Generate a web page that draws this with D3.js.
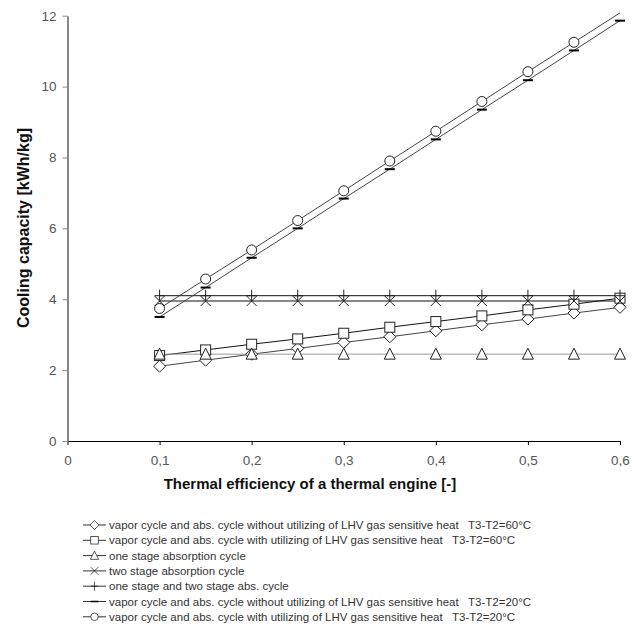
<!DOCTYPE html>
<html>
<head>
<meta charset="utf-8">
<script src="https://cdn.jsdelivr.net/npm/d3@7"></script>
<style>
  body { margin: 0; background: #fff; }
  text { font-family: "Liberation Sans", Arial, sans-serif; }
</style>
</head>
<body>
<div id="chart"></div>
<script>
// thermal efficiency values
let eff = [0.1, 0.15, 0.2, 0.25, 0.3, 0.35, 0.4, 0.45, 0.5, 0.55, 0.6];

let vapNoLhv60 = [2.11, 2.28, 2.45, 2.61, 2.78, 2.94, 3.11, 3.28, 3.44, 3.61, 3.77];
let vapLhv60   = [2.41, 2.57, 2.73, 2.88, 3.04, 3.21, 3.37, 3.53, 3.70, 3.86, 4.03];
let oneStage   = [2.45, 2.45, 2.45, 2.45, 2.45, 2.45, 2.45, 2.45, 2.45, 2.45, 2.45];
let twoStage   = [3.95, 3.95, 3.95, 3.95, 3.95, 3.95, 3.95, 3.95, 3.95, 3.95, 3.95];
let oneTwo     = [4.10, 4.10, 4.10, 4.10, 4.10, 4.10, 4.10, 4.10, 4.10, 4.10, 4.10];
let vapNoLhv20 = [3.50, 4.33, 5.17, 6.00, 6.84, 7.67, 8.51, 9.35, 10.18, 11.02, 11.86];
let vapLhv20   = [3.74, 4.57, 5.39, 6.22, 7.06, 7.90, 8.74, 9.58, 10.42, 11.25, 12.08];

let xTicks = [0, 0.1, 0.2, 0.3, 0.4, 0.5, 0.6];
let yTicks = [0, 2, 4, 6, 8, 10, 12];

let seriesNames = [
  "vapor cycle and abs. cycle without utilizing of LHV gas sensitive heat   T3-T2=60°C",
  "vapor cycle and abs. cycle with utilizing of LHV gas sensitive heat   T3-T2=60°C",
  "one stage absorption cycle",
  "two stage absorption cycle",
  "one stage and two stage abs. cycle",
  "vapor cycle and abs. cycle without utilizing of LHV gas sensitive heat   T3-T2=20°C",
  "vapor cycle and abs. cycle with utilizing of LHV gas sensitive heat   T3-T2=20°C"
];

let series = [
  {name: seriesNames[0], values: vapNoLhv60, marker: "diamond", line: "#444"},
  {name: seriesNames[1], values: vapLhv60,   marker: "square",  line: "#111"},
  {name: seriesNames[2], values: oneStage,   marker: "triangle",line: "#999"},
  {name: seriesNames[3], values: twoStage,   marker: "x",       line: "#111"},
  {name: seriesNames[4], values: oneTwo,     marker: "plus",    line: "#111"},
  {name: seriesNames[5], values: vapNoLhv20, marker: "dash",    line: "#444"},
  {name: seriesNames[6], values: vapLhv20,   marker: "circle",  line: "#444"}
];

let W = 638, H = 643,
    margin = {top: 15.7, right: 18, left: 67.5, bottom: 202},
    width = W - margin.left - margin.right,
    height = H - margin.top - margin.bottom;

let svg = d3.select("#chart").append("svg")
  .attr("width", W).attr("height", H);

let x = d3.scaleLinear().domain([0, 0.6]).range([0, width]);
let y = d3.scaleLinear().domain([0, 12]).range([height, 0]);

let g = svg.append("g")
  .attr("transform", "translate(" + margin.left + "," + margin.top + ")");

// x axis
let xAxis = g.append("g")
  .attr("transform", "translate(0," + height + ")")
  .call(d3.axisBottom(x).tickValues(xTicks).tickSize(4).tickSizeOuter(0)
        .tickFormat(d => d === 0 ? "0" : d3.format(".1f")(d).replace(".", ",")));
xAxis.select(".domain").attr("stroke", "#000");
xAxis.selectAll("text").attr("font-size", 13.5).attr("fill", "#555").attr("y", 14);

// y axis
let yAxis = g.append("g")
  .call(d3.axisLeft(y).tickValues(yTicks).tickSize(5).tickSizeOuter(0));
yAxis.select(".domain").attr("stroke", "#888").attr("stroke-width", 2);
yAxis.selectAll(".tick line").attr("stroke", "#888");
yAxis.selectAll("text").attr("font-size", 13.5).attr("fill", "#555").attr("x", -11);

// axis titles
svg.append("text")
  .attr("x", 310).attr("y", 489)
  .attr("text-anchor", "middle")
  .attr("font-size", 15).attr("font-weight", "bold").attr("fill", "#111")
  .text("Thermal efficiency of a thermal engine [-]");

svg.append("text")
  .attr("transform", "translate(29,228) rotate(-90)")
  .attr("text-anchor", "middle")
  .attr("font-size", 16).attr("font-weight", "bold").attr("fill", "#111")
  .text("Cooling capacity [kWh/kg]");

// markers
function drawMarker(sel, type) {
  if (type === "diamond") {
    sel.append("path").attr("d", "M0,-6L6,0L0,6L-6,0Z")
      .attr("fill", "#fff").attr("stroke", "#222");
  } else if (type === "square") {
    sel.append("rect").attr("x", -5).attr("y", -5).attr("width", 10).attr("height", 10)
      .attr("fill", "#fff").attr("stroke", "#222");
  } else if (type === "triangle") {
    sel.append("path").attr("d", "M0,-6L5.5,5L-5.5,5Z")
      .attr("fill", "#fff").attr("stroke", "#222");
  } else if (type === "x") {
    sel.append("path").attr("d", "M-5,-5L5,5M-5,5L5,-5")
      .attr("fill", "none").attr("stroke", "#222");
  } else if (type === "plus") {
    sel.append("path").attr("d", "M0,-6L0,6M-5,0L5,0")
      .attr("fill", "none").attr("stroke", "#222");
  } else if (type === "dash") {
    sel.append("path").attr("d", "M-5,0L5,0")
      .attr("fill", "none").attr("stroke", "#000").attr("stroke-width", 2);
  } else if (type === "circle") {
    sel.append("circle").attr("r", 5)
      .attr("fill", "#fff").attr("stroke", "#222");
  }
}

let line = d3.line()
  .x((d, i) => x(eff[i]))
  .y(d => y(d));

series.forEach(s => {
  g.append("path")
    .datum(s.values)
    .attr("fill", "none")
    .attr("stroke", s.line)
    .attr("stroke-width", 1)
    .attr("d", line);
});

series.forEach(s => {
  g.selectAll(null)
    .data(s.values.map((v, i) => ({v: v, e: eff[i]})).filter(d => d.v <= 12))
    .enter().append("g")
    .attr("transform", d => "translate(" + x(d.e) + "," + y(d.v) + ")")
    .each(function() { drawMarker(d3.select(this), s.marker); });
});

// legend
let legend = svg.append("g").attr("transform", "translate(83,525)");
series.forEach((s, i) => {
  let row = legend.append("g").attr("transform", "translate(0," + (i * 15.3) + ")");
  row.append("line").attr("x1", 0).attr("x2", 23).attr("y1", 0).attr("y2", 0)
    .attr("stroke", "#333");
  let m = row.append("g").attr("transform", "translate(11.5,0) scale(0.75)");
  drawMarker(m, s.marker);
  row.append("text")
    .attr("x", 26).attr("y", 4)
    .attr("font-size", 11.5).attr("fill", "#333")
    .style("white-space", "pre")
    .text(s.name);
});
</script>
</body>
</html>
